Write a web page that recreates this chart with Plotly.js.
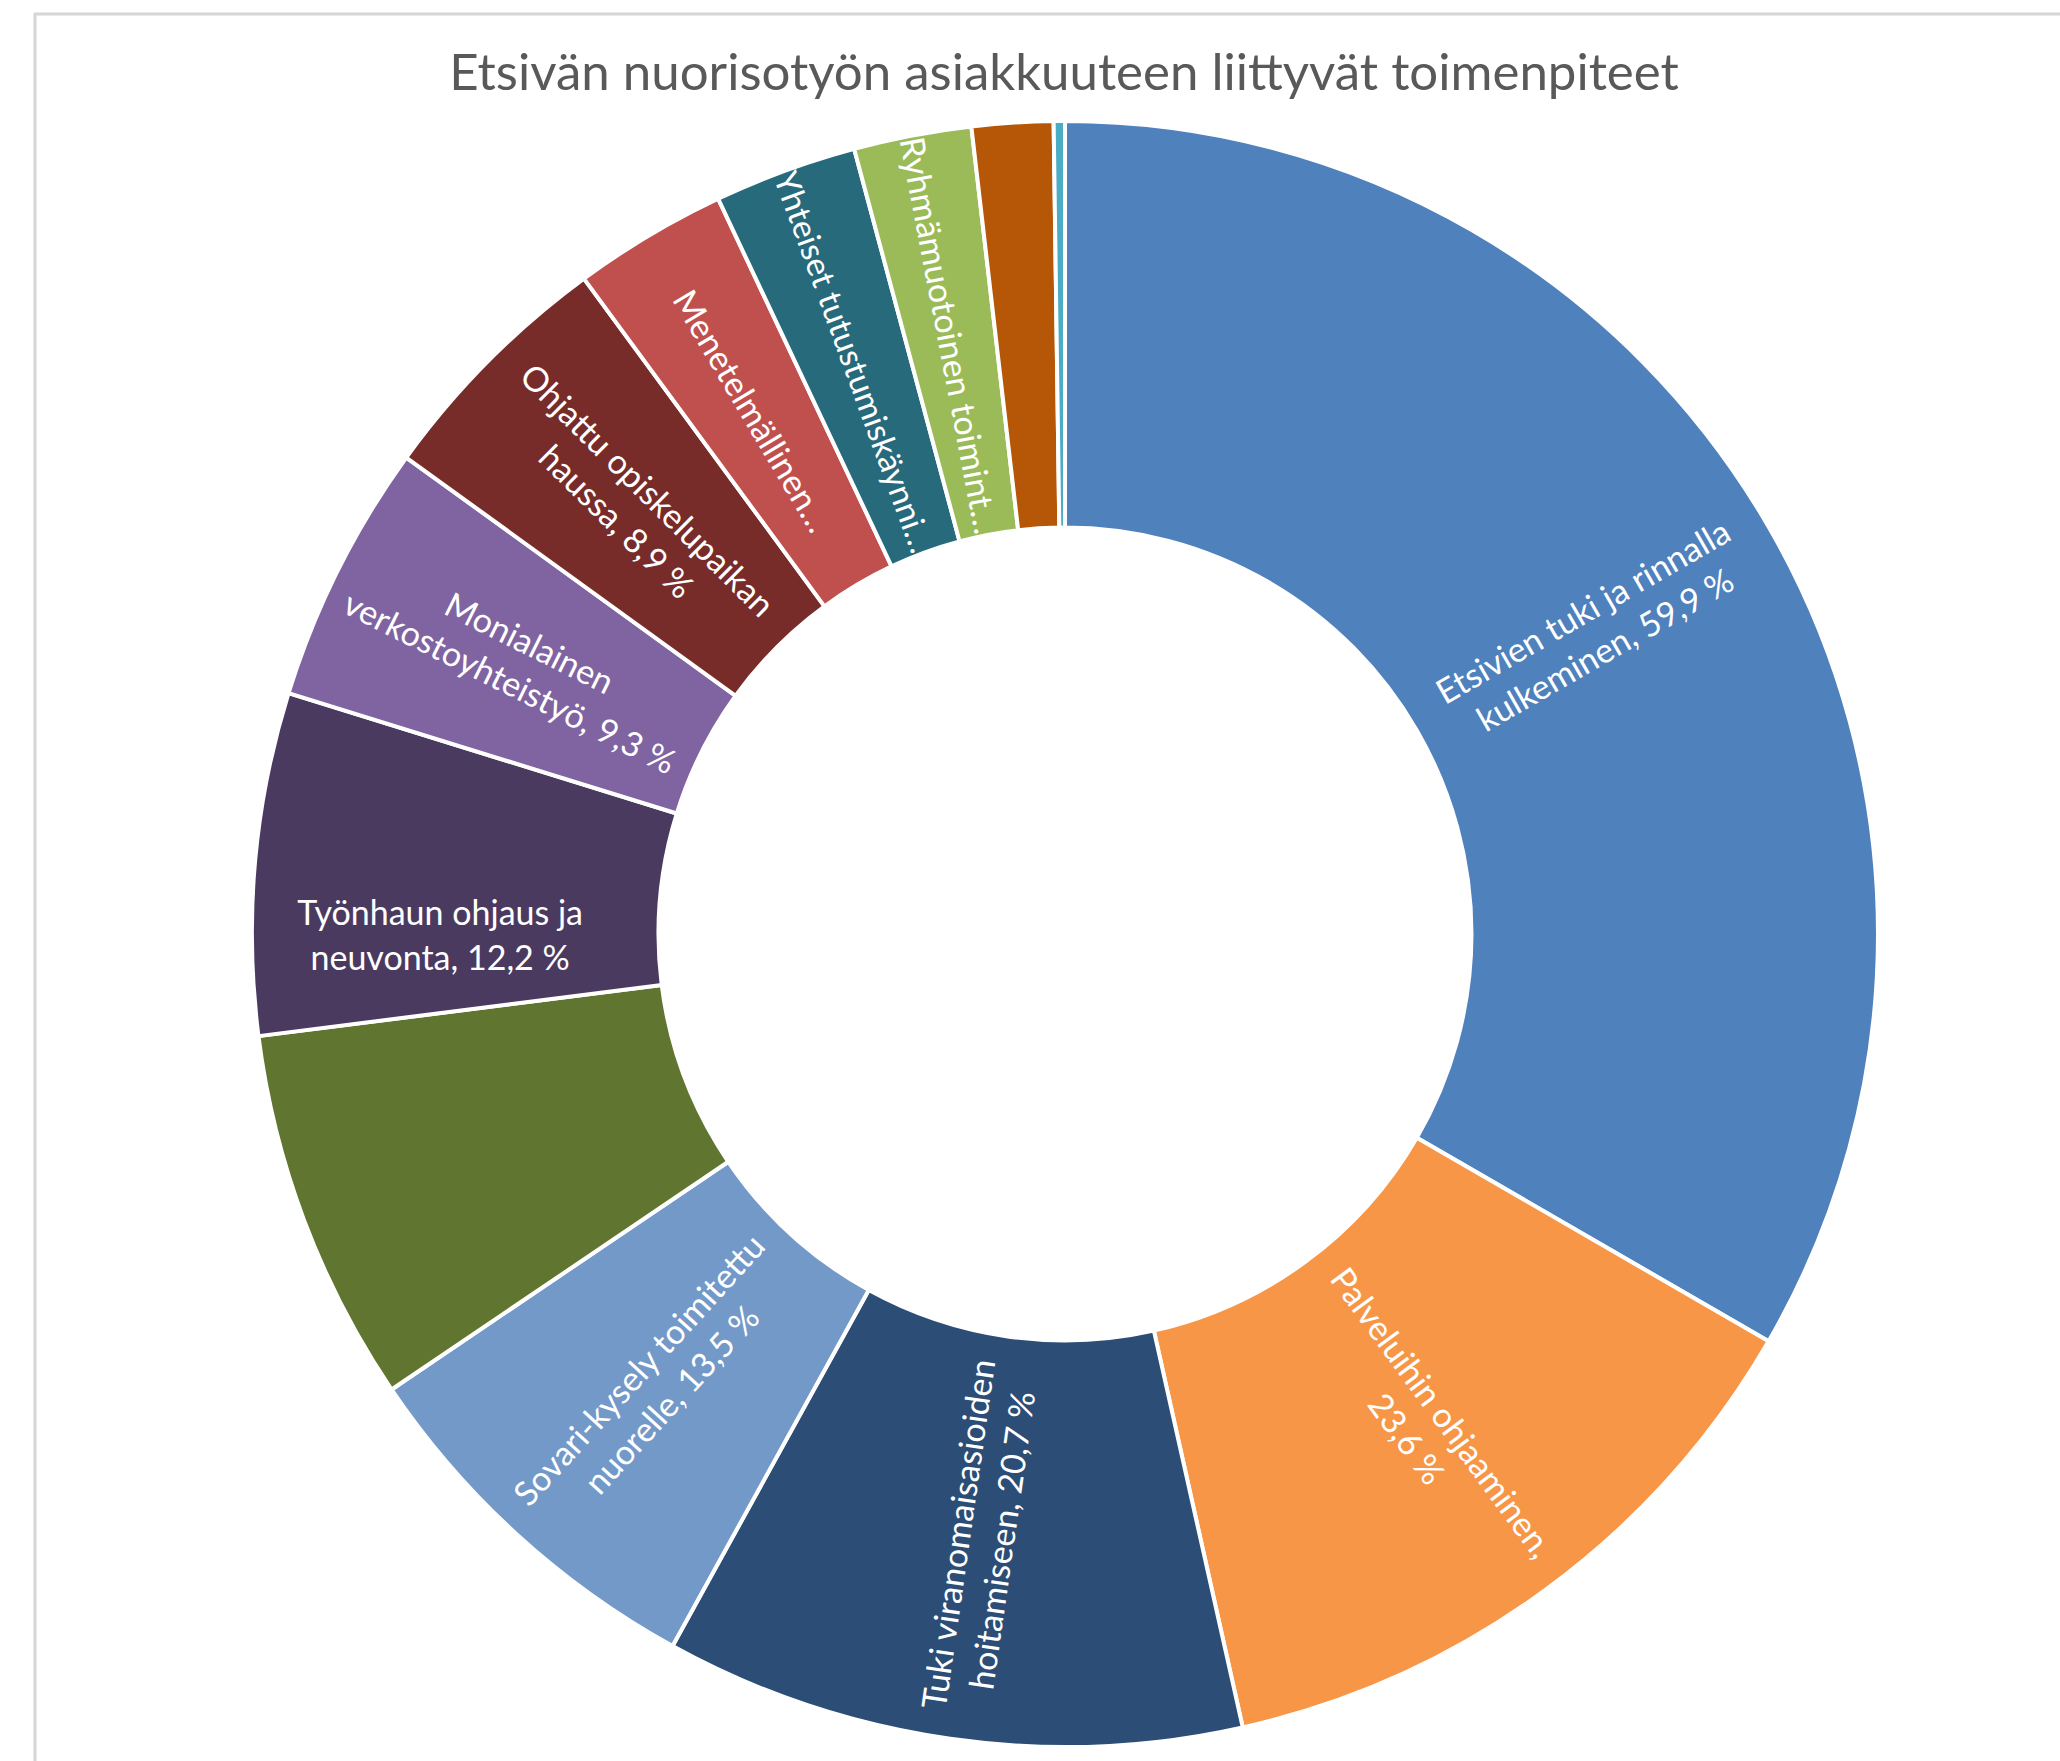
<!DOCTYPE html>
<html>
<head>
<meta charset="utf-8">
<script src="https://cdn.plot.ly/plotly-3.0.1.min.js"></script>
<style>
  html, body { margin: 0; padding: 0; background: #ffffff; }
  #chart { width: 2060px; height: 1761px; }
</style>
</head>
<body>
<div id="chart"></div>
<script>
// Categories (as shown, truncated where the original truncates)
const categories = [
  "Etsivien tuki ja rinnalla kulkeminen",
  "Palveluihin ohjaaminen",
  "Tuki viranomaisasioiden hoitamiseen",
  "Sovari-kysely toimitettu nuorelle",
  "(ei nimeä)",
  "Työnhaun ohjaus ja neuvonta",
  "Monialainen verkostoyhteistyö",
  "Ohjattu opiskelupaikan haussa",
  "Menetelmällinen…",
  "Yhteiset tutustumiskäynni…",
  "Ryhmämuotoinen toimint…",
  "(ei nimeä 2)",
  "(ei nimeä 3)"
];

// Percent values
const values = [59.9, 23.6, 20.7, 13.5, 13.4, 12.2, 9.3, 8.9, 5.5, 5.1, 4.2, 2.9, 0.4];

// Data labels exactly as displayed (empty = no label shown)
const sliceLabels = [
  "Etsivien tuki ja rinnalla<br>kulkeminen, 59,9 %",
  "Palveluihin ohjaaminen,<br>23,6 %",
  "Tuki viranomaisasioiden<br>hoitamiseen, 20,7 %",
  "Sovari-kysely toimitettu<br>nuorelle, 13,5 %",
  "",
  "Työnhaun ohjaus ja<br>neuvonta, 12,2 %",
  "Monialainen<br>verkostoyhteistyö, 9,3 %",
  "Ohjattu opiskelupaikan<br>haussa, 8,9 %",
  "Menetelmällinen…",
  "Yhteiset tutustumiskäynni…",
  "Ryhmämuotoinen toimint…",
  "",
  ""
];

const colors = [
  "#4F81BD", "#F79646", "#2C4D75", "#7399C8", "#607530",
  "#4B3A60", "#8064A2", "#772C2A", "#C0504D", "#276A7C",
  "#9BBB59", "#B65708", "#4BACC6"
];

const W = 2060, H = 1761;
const cx = 1065, cy = 934, R = 813, HOLE = 0.5;
const FONT = "Lato, 'Open Sans', sans-serif";
const LABEL_SIZE = 34;

// The first (largest) slice label is drawn as a radial annotation at the slice middle,
// since Plotly would otherwise lay it horizontally where the slice crosses 3 o'clock.
const total = values.reduce((a, b) => a + b, 0);
const midFrac0 = (values[0] / 2) / total;
const midAng0 = midFrac0 * 2 * Math.PI;           // clockwise from top
const rMid = R * (1 + HOLE) / 2;
const annX = (cx + rMid * Math.sin(midAng0)) / W;
const annY = 1 - (cy - rMid * Math.cos(midAng0)) / H;
const annAngle = midAng0 * 180 / Math.PI - 90;

const pieText = sliceLabels.map((t, i) => (i === 0 ? "" : t));

const trace = {
  type: "pie",
  labels: categories,
  values: values,
  text: pieText,
  textinfo: "text",
  textposition: "inside",
  insidetextorientation: "radial",
  hole: HOLE,
  sort: false,
  direction: "clockwise",
  rotation: 0,
  marker: { colors: colors, line: { color: "#ffffff", width: 4 } },
  insidetextfont: { family: FONT, size: LABEL_SIZE, color: "#ffffff" },
  hoverinfo: "label+value",
  showlegend: false,
  domain: {
    x: [(cx - R) / W, (cx + R) / W],
    y: [(H - cy - R) / H, (H - cy + R) / H]
  }
};

const layout = {
  width: W,
  height: H,
  margin: { l: 0, r: 0, t: 0, b: 0 },
  paper_bgcolor: "#ffffff",
  showlegend: false,
  title: {
    text: "Etsivän nuorisotyön asiakkuuteen liittyvät toimenpiteet",
    font: { family: FONT, size: 51, color: "#595959", weight: 400 },
    x: 1064 / W,
    xanchor: "center",
    xref: "paper",
    y: 1 - 72 / H,
    yanchor: "middle",
    yref: "container"
  },
  annotations: [
    {
      text: sliceLabels[0],
      xref: "paper", yref: "paper",
      x: annX, y: annY,
      xanchor: "center", yanchor: "middle",
      textangle: annAngle,
      showarrow: false,
      align: "center",
      font: { family: FONT, size: LABEL_SIZE, color: "#ffffff" }
    }
  ],
  shapes: [
    { type: "line", xref: "paper", yref: "paper", x0: 34 / W, x1: 1, y0: 1 - 14 / H, y1: 1 - 14 / H,
      line: { color: "#d6d6d6", width: 3 } },
    { type: "line", xref: "paper", yref: "paper", x0: 35 / W, x1: 35 / W, y0: 0, y1: 1 - 13 / H,
      line: { color: "#d6d6d6", width: 3 } }
  ]
};

Plotly.newPlot("chart", [trace], layout, { displayModeBar: false, staticPlot: true });
</script>
</body>
</html>
